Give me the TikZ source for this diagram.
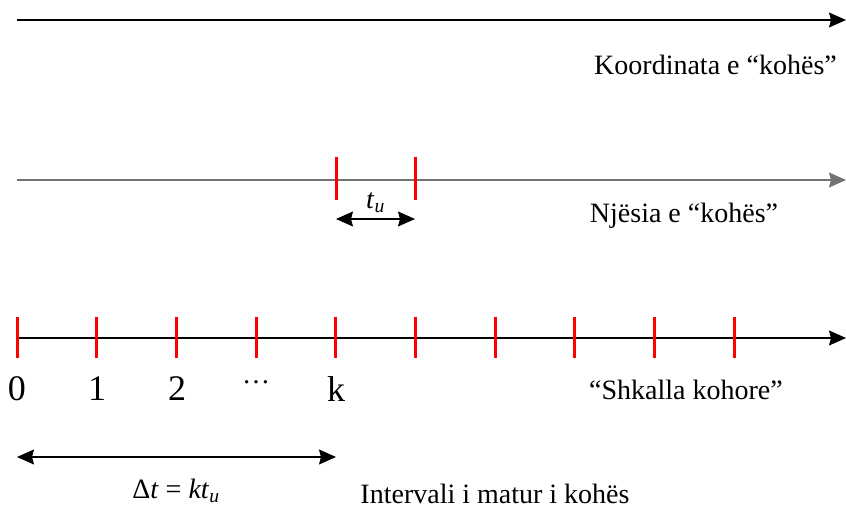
\documentclass[tikz,border=0pt]{standalone}
\usepackage{fontspec}
\setmainfont{Liberation Serif}
\usetikzlibrary{arrows.meta,calc,positioning}

\begin{document}
\begin{tikzpicture}[x=1pt,y=-1pt,>={Stealth[length=17pt,width=15pt,inset=2pt]},
  axis/.style={->,line width=1.2pt},
  tick/.style={red,line width=3pt},
  lbl/.style={font=\fontsize{28}{30}\selectfont,inner sep=0pt},
  num/.style={font=\fontsize{36}{38}\selectfont,inner sep=0pt}]
\useasboundingbox (0,0) rectangle (846,508);
% time coordinate
\coordinate (a1) at (17,20);
\coordinate (b1) at (846,20);
\draw[axis] (a1) -- (b1);
\node[lbl,anchor=east] (coord) at (837,65) {Koordinata e “kohës”};
% unit of time
\coordinate (a2) at (17,180);
\coordinate (b2) at (846,180);
\draw[axis,draw=gray!90!black] (a2) -- (b2);
\coordinate (u0) at (336,180);
\coordinate (u1) at (415,180);
\draw[tick] ($(u0)+(0,-23)$) -- ($(u0)+(0,20)$);
\draw[tick] ($(u1)+(0,-23)$) -- ($(u1)+(0,20)$);
\draw[<->,line width=1.2pt] ($(u0)+(0,39)$) -- node[lbl,above=6pt] (tu) {\textit{t}\textsubscript{\textit{u}}} ($(u1)+(0,39)$);
\node[lbl] (unit) at (684,216) {Njësia e “kohës”};
% time scale
\coordinate (a3) at (17,338);
\coordinate (b3) at (846,338);
\draw[axis] (a3) -- (b3);
\foreach \i in {0,...,9}
  \draw[tick] ({17+79.7*\i},317) -- ({17+79.7*\i},358);
\node[num] (n0) at (17,389) {0};
\node[num] (n1) at (97,389) {1};
\node[num] (n2) at (177,389) {2};
\node[lbl] (dots) at (256,382) {…};
\node[num] (nk) at (336,389) {k};
\node[lbl] (scale) at (686,390) {“Shkalla kohore”};
% measured interval
\coordinate (i0) at (17,457);
\coordinate (i1) at (336,457);
\draw[<->,line width=1.2pt] (i0) -- (i1);
\node[lbl] (dt) at (176,491) {Δ\textit{t} = \textit{kt}\textsubscript{\textit{u}}};
\node[lbl] (interval) at (495,494) {Intervali i matur i kohës};
\end{tikzpicture}
\end{document}
